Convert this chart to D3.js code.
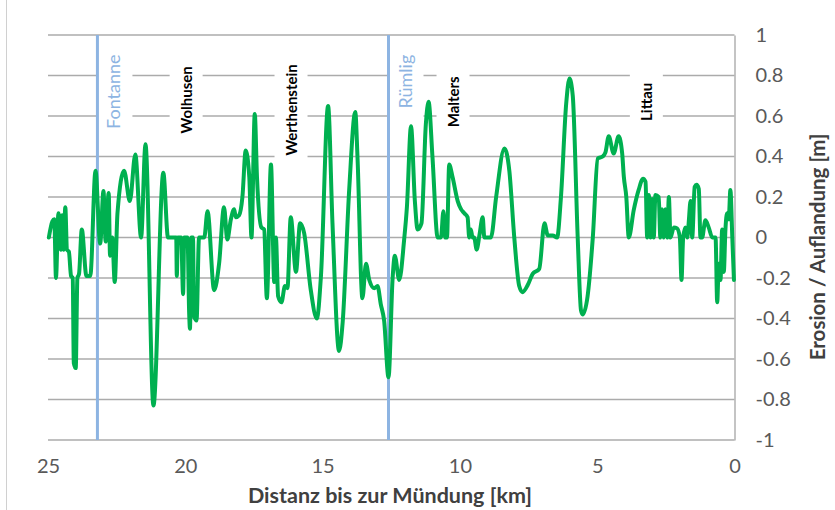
<!DOCTYPE html>
<html>
<head>
<meta charset="utf-8">
<script src="https://cdn.jsdelivr.net/npm/d3@7"></script>
<style>
  body { margin: 0; background: #fff; }
  svg { display: block; }
</style>
</head>
<body>
<svg id="chart" width="835" height="510"></svg>
<script>
// Distance to the river mouth (km) and bed change (m, + = aggradation, - = erosion)
const distanceKm = [
  24.97, 24.84, 24.77, 24.71, 24.62, 24.53, 24.48, 24.43, 24.37, 24.31,
  24.24, 24.16, 24.10, 24.06, 23.99, 23.93, 23.87, 23.77, 23.60, 23.46,
  23.27, 23.10, 22.98, 22.90, 22.79, 22.74, 22.66, 22.57, 22.47, 22.23,
  22.02, 21.82, 21.61, 21.45, 21.16, 20.80, 20.63, 20.45, 20.33, 20.31,
  20.27, 20.15, 20.08, 20.04, 19.92, 19.86, 19.83, 19.78, 19.72, 19.68,
  19.59, 19.50, 19.31, 19.19, 18.95, 18.77, 18.59, 18.47, 18.34, 18.22,
  18.16, 18.04, 17.92, 17.80, 17.67, 17.59, 17.47, 17.39, 17.23, 17.13,
  17.03, 16.88, 16.76, 16.70, 16.62, 16.50, 16.37, 16.28, 16.16, 15.97,
  15.82, 15.67, 15.43, 15.21, 15.06, 14.80, 14.64, 14.40, 14.27, 14.03,
  13.81, 13.73, 13.55, 13.42, 13.30, 13.12, 13.00, 12.88, 12.76, 12.60,
  12.45, 12.37, 12.21, 12.03, 11.93, 11.78, 11.64, 11.54, 11.40, 11.24,
  11.14, 11.00, 10.81, 10.69, 10.60, 10.54, 10.47, 10.39, 10.27, 10.08,
  9.96, 9.84, 9.72, 9.66, 9.60, 9.54, 9.48, 9.39, 9.29, 9.17,
  9.11, 8.87, 8.68, 8.38, 8.20, 8.02, 7.84, 7.72, 7.53, 7.35,
  7.11, 6.92, 6.80, 6.62, 6.46, 6.32, 6.13, 6.01, 5.89, 5.71,
  5.59, 5.53, 5.35, 5.16, 4.98, 4.80, 4.70, 4.58, 4.40, 4.22,
  4.09, 4.03, 3.94, 3.85, 3.67, 3.49, 3.33, 3.24, 3.18, 3.12,
  3.06, 3.00, 2.94, 2.88, 2.76, 2.70, 2.64, 2.58, 2.52, 2.45,
  2.39, 2.33, 2.21, 2.09, 1.99, 1.93, 1.87, 1.79, 1.72, 1.67,
  1.60, 1.54, 1.45, 1.38, 1.30, 1.24, 1.18, 1.06, 0.94, 0.81,
  0.69, 0.63, 0.57, 0.51, 0.45, 0.39, 0.33, 0.27, 0.21, 0.15,
  0.08, 0.02
];
const changeM = [
  0.00, 0.08, 0.09, -0.20, 0.12, -0.06, 0.11, -0.06, 0.15, -0.06,
  -0.07, -0.19, -0.20, -0.62, -0.645, -0.20, -0.18, 0.04, -0.19, -0.19,
  0.33, -0.03, 0.23, -0.02, 0.22, -0.09, 0.00, -0.22, 0.12, 0.33,
  0.18, 0.41, 0.00, 0.46, -0.83, 0.32, 0.00, 0.00, 0.00, -0.19,
  0.00, 0.00, -0.28, 0.00, 0.00, -0.37, -0.45, 0.00, 0.00, -0.39,
  -0.41, 0.00, 0.00, 0.13, -0.26, -0.13, 0.15, -0.01, 0.09, 0.14,
  0.10, 0.11, 0.20, 0.43, 0.30, 0.00, 0.61, 0.30, 0.05, 0.04,
  -0.30, 0.36, -0.22, 0.00, -0.29, -0.32, -0.24, -0.25, 0.10, -0.17,
  0.07, 0.02, -0.26, -0.40, -0.19, 0.65, 0.07, -0.56, -0.42, 0.24,
  0.62, 0.40, -0.30, -0.13, -0.21, -0.25, -0.24, -0.33, -0.41, -0.69,
  -0.20, -0.09, -0.21, -0.01, 0.15, 0.55, 0.18, 0.04, 0.07, 0.56,
  0.67, 0.40, 0.00, 0.00, 0.13, 0.00, 0.00, 0.36, 0.30, 0.18,
  0.14, 0.12, 0.10, 0.00, 0.04, 0.00, 0.00, -0.06, 0.01, 0.10,
  0.00, 0.00, 0.20, 0.44, 0.33, 0.00, -0.24, -0.27, -0.235, -0.18,
  -0.155, 0.07, 0.01, 0.01, 0.00, 0.20, 0.66, 0.785, 0.70, 0.00,
  -0.36, -0.38, -0.29, 0.00, 0.39, 0.40, 0.42, 0.50, 0.415, 0.50,
  0.415, 0.30, 0.20, 0.00, 0.135, 0.235, 0.29, 0.275, 0.00, 0.21,
  0.00, 0.19, 0.00, 0.21, 0.20, 0.00, 0.14, 0.00, 0.14, 0.00,
  0.20, 0.00, 0.05, 0.045, 0.00, -0.21, 0.00, 0.05, 0.00, 0.07,
  0.18, 0.00, 0.25, 0.26, 0.24, 0.00, 0.00, 0.085, 0.05, 0.00,
  0.00, -0.32, -0.13, -0.21, 0.04, -0.17, 0.04, 0.12, 0.09, 0.235,
  0.00, -0.21
];

// Axis ticks
const xTicks = [25, 20, 15, 10, 5, 0];
const yTicks = [-1, -0.8, -0.6, -0.4, -0.2, 0, 0.2, 0.4, 0.6, 0.8, 1];

// Gauging stations (blue reference lines)
const stationNames = ["Fontanne", "Rümlig"];
const stationKm = [23.2, 12.6];
const stationLabelValue = [0.72, 0.77];

// Towns along the river
const townNames = ["Wolhusen", "Werthenstein", "Malters", "Littau"];
const townKm = [19.97, 16.15, 10.25, 3.21];
const townLabelValue = [0.68, 0.63, 0.67, 0.67];

const xLabel = "Distanz bis zur Mündung [km]";
const yLabel = "Erosion / Auflandung [m]";

const svg = d3.select("#chart");
const plotLeft = 48, plotRight = 734.5, plotTop = 35, plotBottom = 440;

const x = d3.scaleLinear().domain([25, 0]).range([plotLeft, plotRight]);
const y = d3.scaleLinear().domain([-1, 1]).range([plotBottom, plotTop]);

const gridColor = "#ababab";
const tickColor = "#595959";
const fontFamily = "Lato, 'Open Sans', sans-serif";

// Chart area frame (left edge)
svg.append("line")
  .attr("x1", 6.5).attr("x2", 6.5).attr("y1", 0).attr("y2", 510)
  .attr("stroke", "#d0d0d0").attr("stroke-width", 1);

// Horizontal gridlines
svg.append("g").selectAll("line").data(yTicks).join("line")
  .attr("x1", plotLeft).attr("x2", plotRight)
  .attr("y1", d => y(d)).attr("y2", d => y(d))
  .attr("stroke", gridColor).attr("stroke-width", 1.4);

// Right value axis
const yAxis = svg.append("g")
  .attr("transform", `translate(${plotRight},0)`)
  .call(d3.axisRight(y).tickValues(yTicks).tickSize(0).tickPadding(21)
    .tickFormat(d => String(Math.round(d * 10) / 10)));
yAxis.select(".domain").attr("stroke", gridColor).attr("stroke-width", 1.4);
yAxis.selectAll("text")
  .attr("font-family", fontFamily).attr("font-size", 20).attr("fill", tickColor);

// Bottom distance axis
const xAxis = svg.append("g")
  .attr("transform", `translate(0,${plotBottom})`)
  .call(d3.axisBottom(x).tickValues(xTicks).tickSize(0).tickPadding(19)
    .tickFormat(d3.format("d")));
xAxis.select(".domain").remove();
xAxis.selectAll("text")
  .attr("font-family", fontFamily).attr("font-size", 20).attr("fill", tickColor);

// Axis titles
svg.append("text")
  .attr("x", 390).attr("y", 495)
  .attr("text-anchor", "middle").attr("dominant-baseline", "central")
  .attr("font-family", fontFamily).attr("font-weight", 700).attr("font-size", 21.5)
  .attr("fill", "#404040")
  .text(xLabel);

svg.append("text")
  .attr("transform", "translate(817,247) rotate(-90)")
  .attr("text-anchor", "middle").attr("dominant-baseline", "central")
  .attr("font-family", fontFamily).attr("font-weight", 700).attr("font-size", 20.5)
  .attr("fill", "#404040")
  .text(yLabel);

// Town labels on white boxes
const towns = townNames.map((name, i) => ({ name, km: townKm[i], v: townLabelValue[i] }));
const townG = svg.append("g").selectAll("g").data(towns).join("g")
  .attr("transform", d => `translate(${x(d.km)},${y(d.v)})`);
townG.append("text")
  .attr("transform", "rotate(-90)")
  .attr("text-anchor", "middle").attr("dominant-baseline", "central")
  .attr("font-family", fontFamily).attr("font-weight", 700).attr("font-size", 15)
  .attr("fill", "#000")
  .text(d => d.name);
townG.each(function () {
  const g = d3.select(this);
  const bb = g.select("text").node().getBBox();
  g.insert("rect", "text")
    .attr("x", -16.5).attr("width", 33)
    .attr("y", -bb.width / 2 - 10).attr("height", bb.width + 20)
    .attr("fill", "#fff");
});

// Station lines and labels
const stations = stationNames.map((name, i) => ({ name, km: stationKm[i], v: stationLabelValue[i] }));
const stG = svg.append("g").selectAll("g").data(stations).join("g");
stG.append("rect")
  .attr("x", d => x(d.km)).attr("width", 35)
  .attr("y", 44).attr("height", 88)
  .attr("fill", "#fff");
stG.append("text")
  .attr("transform", d => `translate(${x(d.km) + 16},${y(d.v)}) rotate(-90)`)
  .attr("text-anchor", "middle").attr("dominant-baseline", "central")
  .attr("font-family", fontFamily).attr("font-size", 18)
  .attr("fill", "#8db4e2")
  .text(d => d.name);
stG.append("line")
  .attr("x1", d => x(d.km)).attr("x2", d => x(d.km))
  .attr("y1", plotTop).attr("y2", plotBottom)
  .attr("stroke", "#8db4e2").attr("stroke-width", 3);

// Bed change profile
const points = distanceKm.map((km, i) => [km, changeM[i]]);
svg.append("path")
  .datum(points)
  .attr("fill", "none")
  .attr("stroke", "#00b050")
  .attr("stroke-width", 4)
  .attr("stroke-linejoin", "round")
  .attr("stroke-linecap", "round")
  .attr("d", d3.line()
    .x(d => x(d[0]))
    .y(d => y(d[1]))
    .curve(d3.curveMonotoneX));
</script>
</body>
</html>
